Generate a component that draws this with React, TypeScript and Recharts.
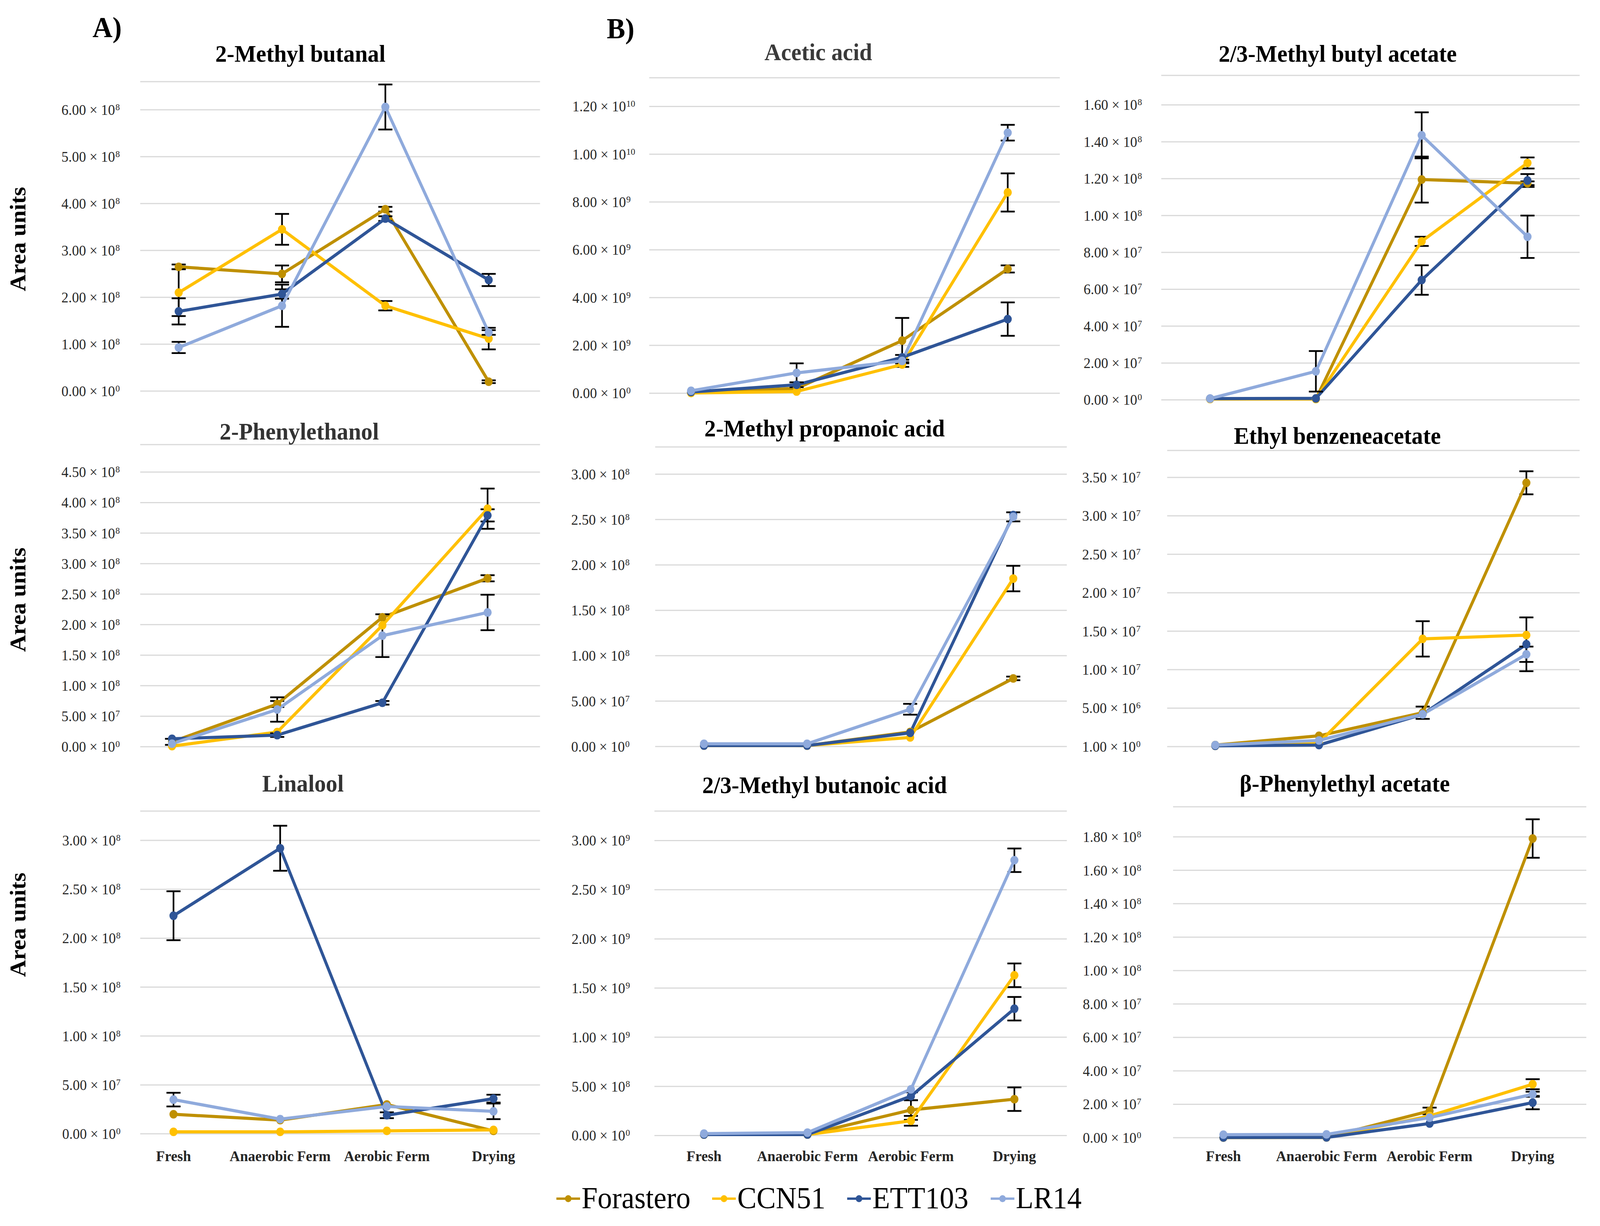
import { CartesianGrid, ErrorBar, Line, LineChart, XAxis, YAxis } from "recharts";

const stages = ["Fresh", "Anaerobic Ferm", "Aerobic Ferm", "Drying"];
const cultivars = ["Forastero", "CCN51", "ETT103", "LR14"];
const cultivarColors = ["#BF9000", "#FFC000", "#2F5597", "#8FAADC"];

// rows: Forastero, CCN51, ETT103, LR14 ; columns follow stages
const methylButanalMean = [
    [2.65e8, 2.5e8, 3.88e8, 0.2e8],
    [2.1e8, 3.45e8, 1.82e8, 1.12e8],
    [1.7e8, 2.07e8, 3.68e8, 2.37e8],
    [0.93e8, 1.82e8, 6.06e8, 1.25e8],
];
const methylButanalErr = [
    [0.05e8, 0.18e8, 0.05e8, 0.03e8],
    [0.5e8, 0.33e8, 0.1e8, 0.23e8],
    [0.28e8, 0.1e8, 0.05e8, 0.13e8],
    [0.12e8, 0.45e8, 0.48e8, 0.05e8],
];
const methylButanalTicks = [0, 1e8, 2e8, 3e8, 4e8, 5e8, 6e8];

const phenylethanolMean = [
    [0.08e8, 0.7e8, 2.12e8, 2.76e8],
    [0.01e8, 0.24e8, 1.99e8, 3.9e8],
    [0.13e8, 0.19e8, 0.72e8, 3.79e8],
    [0.05e8, 0.61e8, 1.82e8, 2.2e8],
];
const phenylethanolErr = [
    [0.05e8, 0.05e8, 0, 0.05e8],
    [0, 0, 0, 0.33e8],
    [0, 0.03e8, 0.03e8, 0.1e8],
    [0, 0.2e8, 0.35e8, 0.29e8],
];
const phenylethanolTicks = [0, 0.5e8, 1e8, 1.5e8, 2e8, 2.5e8, 3e8, 3.5e8, 4e8, 4.5e8];

const linaloolMean = [
    [0.2e8, 0.14e8, 0.3e8, 0.03e8],
    [0.02e8, 0.02e8, 0.03e8, 0.04e8],
    [2.23e8, 2.92e8, 0.19e8, 0.36e8],
    [0.35e8, 0.15e8, 0.28e8, 0.23e8],
];
const linaloolErr = [
    [0, 0, 0, 0],
    [0, 0, 0, 0],
    [0.25e8, 0.23e8, 0.03e8, 0.04e8],
    [0.07e8, 0, 0, 0.08e8],
];
const linaloolTicks = [0, 0.5e8, 1e8, 1.5e8, 2e8, 2.5e8, 3e8];

const aceticMean = [
    [0.02e9, 0.2e9, 2.2e9, 5.2e9],
    [0.01e9, 0.07e9, 1.2e9, 8.4e9],
    [0.05e9, 0.35e9, 1.5e9, 3.1e9],
    [0.1e9, 0.85e9, 1.35e9, 10.9e9],
];
const aceticErr = [
    [0, 0, 0.95e9, 0.15e9],
    [0, 0, 0.1e9, 0.8e9],
    [0, 0.1e9, 0.1e9, 0.7e9],
    [0, 0.4e9, 0, 0.33e9],
];
const aceticTicks = [0, 2e9, 4e9, 6e9, 8e9, 1e10, 1.2e10];

const propanoicMean = [
    [0.02e8, 0.01e8, 0.16e8, 0.75e8],
    [0.01e8, 0.01e8, 0.1e8, 1.85e8],
    [0.01e8, 0.01e8, 0.15e8, 2.55e8],
    [0.03e8, 0.03e8, 0.41e8, 2.53e8],
];
const propanoicErr = [
    [0, 0, 0, 0.02e8],
    [0, 0, 0, 0.14e8],
    [0, 0, 0, 0],
    [0, 0, 0.06e8, 0.05e8],
];
const propanoicTicks = [0, 0.5e8, 1e8, 1.5e8, 2e8, 2.5e8, 3e8];

const butanoicMean = [
    [0.01e9, 0.01e9, 0.26e9, 0.37e9],
    [0.01e9, 0.01e9, 0.15e9, 1.63e9],
    [0.01e9, 0.01e9, 0.4e9, 1.29e9],
    [0.02e9, 0.03e9, 0.47e9, 2.8e9],
];
const butanoicErr = [
    [0, 0, 0.1e9, 0.12e9],
    [0, 0, 0.05e9, 0.12e9],
    [0, 0, 0.04e9, 0.12e9],
    [0, 0, 0, 0.12e9],
];
const butanoicTicks = [0, 0.5e9, 1e9, 1.5e9, 2e9, 2.5e9, 3e9];

const butylAcetateMean = [
    [0.05e7, 0.05e7, 11.95e7, 11.75e7],
    [0.05e7, 0.05e7, 8.6e7, 12.85e7],
    [0.07e7, 0.08e7, 6.5e7, 11.9e7],
    [0.07e7, 1.55e7, 14.35e7, 8.85e7],
];
const butylAcetateErr = [
    [0, 0, 1.25e7, 0.1e7],
    [0, 0, 0.25e7, 0.3e7],
    [0, 0, 0.8e7, 0.35e7],
    [0, 1.1e7, 1.25e7, 1.15e7],
];
const butylAcetateTicks = [0, 2e7, 4e7, 6e7, 8e7, 1e8, 1.2e8, 1.4e8, 1.6e8];

const benzeneacetateMean = [
    [0.02e7, 0.14e7, 0.44e7, 3.43e7],
    [0.01e7, 0.05e7, 1.4e7, 1.45e7],
    [0.01e7, 0.02e7, 0.42e7, 1.33e7],
    [0.02e7, 0.08e7, 0.42e7, 1.2e7],
];
const benzeneacetateErr = [
    [0, 0, 0.08e7, 0.15e7],
    [0, 0, 0.23e7, 0],
    [0, 0, 0, 0.35e7],
    [0, 0, 0, 0.1e7],
];
const benzeneacetateTicks = [1, 5e6, 1e7, 1.5e7, 2e7, 2.5e7, 3e7, 3.5e7];

const phenylethylAcetateMean = [
    [0.01e7, 0.02e7, 1.6e7, 17.9e7],
    [0.01e7, 0.02e7, 1.3e7, 3.2e7],
    [0.01e7, 0.02e7, 0.85e7, 2.1e7],
    [0.18e7, 0.2e7, 1.2e7, 2.6e7],
];
const phenylethylAcetateErr = [
    [0, 0, 0.2e7, 1.15e7],
    [0, 0, 0, 0.3e7],
    [0, 0, 0, 0.4e7],
    [0, 0, 0, 0.15e7],
];
const phenylethylAcetateTicks = [0, 2e7, 4e7, 6e7, 8e7, 1e8, 1.2e8, 1.4e8, 1.6e8, 1.8e8];

const SERIF = "'Liberation Serif', 'Times New Roman', serif";
const PAGE_W = 4325;
const PAGE_H = 3138;
const Y_AXIS_W = 320;
const X_LABEL_BASELINE = 2972;

const panels = [
    { title: "2-Methyl butanal", tc: "#000", tx: 812, ty: 158, mean: methylButanalMean, err: methylButanalErr, ticks: methylButanalTicks, gl: 379, gr: 1460, gt: 281, gb: 1001, pl: 104, pr: 139, lr: 311, showX: false },
    { title: "2-Phenylethanol", tc: "#333", tx: 809, ty: 1125, mean: phenylethanolMean, err: phenylethanolErr, ticks: phenylethanolTicks, gl: 379, gr: 1460, gt: 1208, gb: 1911, pl: 86, pr: 142, lr: 311, showX: false },
    { title: "Linalool", tc: "#333", tx: 819, ty: 2026, mean: linaloolMean, err: linaloolErr, ticks: linaloolTicks, gl: 379, gr: 1460, gt: 2151, gb: 2902, pl: 90, pr: 126, lr: 313, showX: true },
    { title: "Acetic acid", tc: "#3a3a3a", tx: 2212, ty: 154, mean: aceticMean, err: aceticErr, ticks: aceticTicks, gl: 1755, gr: 2865, gt: 272, gb: 1006, pl: 113, pr: 141, lr: 1692, showX: false },
    { title: "2-Methyl propanoic acid", tc: "#000", tx: 2229, ty: 1117, mean: propanoicMean, err: propanoicErr, ticks: propanoicTicks, gl: 1771, gr: 2884, gt: 1214, gb: 1911, pl: 132, pr: 145, lr: 1689, showX: false },
    { title: "2/3-Methyl butanoic acid", tc: "#000", tx: 2229, ty: 2030, mean: butanoicMean, err: butanoicErr, ticks: butanoicTicks, gl: 1769, gr: 2884, gt: 2151, gb: 2906, pl: 134, pr: 142, lr: 1690, showX: true },
    { title: "2/3-Methyl butyl acetate", tc: "#000", tx: 3616, ty: 158, mean: butylAcetateMean, err: butylAcetateErr, ticks: butylAcetateTicks, gl: 3139, gr: 4270, gt: 268, gb: 1023, pl: 132, pr: 141, lr: 3074, showX: false },
    { title: "Ethyl benzeneacetate", tc: "#000", tx: 3615, ty: 1136, mean: benzeneacetateMean, err: benzeneacetateErr, ticks: benzeneacetateTicks, gl: 3155, gr: 4270, gt: 1222, gb: 1911, pl: 130, pr: 144, lr: 3070, showX: false },
    { title: "β-Phenylethyl acetate", tc: "#000", tx: 3635, ty: 2026, mean: phenylethylAcetateMean, err: phenylethylAcetateErr, ticks: phenylethylAcetateTicks, gl: 3171, gr: 4288, gt: 2142, gb: 2912, pl: 136, pr: 145, lr: 3072, showX: true },
];

const areaUnitsY = [612, 1535, 2367];
const legendX = [1504, 1925, 2290, 2678];
const LEGEND_Y = 3068;

function buildRows(mean: number[][], err: number[][]) {
    return stages.map((stage, i) => {
        const row: any = { stage };
        cultivars.forEach((_, s) => {
            row[`v${s}`] = mean[s][i];
            row[`e${s}`] = err[s][i];
        });
        return row;
    });
}

function sci(v: number) {
    if (v === 0) return ["0.00", "0"];
    const e = Math.floor(Math.log10(v) + 1e-9);
    return [(v / Math.pow(10, e)).toFixed(2), String(e)];
}

function makeYTick(offset: number) {
    return (props: any) => {
        const { x, y, payload } = props;
        const [m, e] = sci(payload.value);
        const bx = x + offset;
        return (
            <g>
                <text x={bx} y={y + 13} textAnchor="end" fontFamily={SERIF} fontSize={38} fill="#262626">
                    {`${m} × 10`}
                </text>
                <text x={bx + 1} y={y + 1} textAnchor="start" fontFamily={SERIF} fontSize={24} fill="#262626">
                    {e}
                </text>
            </g>
        );
    };
}

function makeXTick(dy: number) {
    return (props: any) => {
        const { x, y, payload } = props;
        return (
            <text x={x} y={y + dy} textAnchor="middle" fontFamily={SERIF} fontWeight="bold" fontSize={39} fill="#262626">
                {payload.value}
            </text>
        );
    };
}

function Panel({ p }: { p: any }) {
    const data = buildRows(p.mean, p.err);
    const dMin = p.ticks[0];
    const tMax = p.ticks[p.ticks.length - 1];
    const dMax = tMax * 1.1;
    const plotH = ((p.gb - p.gt) * (dMax - dMin)) / (tMax - dMin);
    const mt = 30;
    const mb = p.showX ? 0 : 30;
    const xh = p.showX ? 110 : 0;
    const top = p.gb - plotH - mt;
    const width = Y_AXIS_W + (p.gr - p.gl);
    const height = mt + plotH + mb + xh;
    return (
        <div style={{ position: "absolute", left: p.gl - Y_AXIS_W, top }}>
            <LineChart width={width} height={height} data={data} margin={{ top: mt, right: 0, bottom: mb, left: 0 }}>
                <CartesianGrid vertical={false} stroke="#D9D9D9" strokeWidth={3} />
                <XAxis
                    dataKey="stage"
                    hide={!p.showX}
                    height={xh}
                    padding={{ left: p.pl, right: p.pr }}
                    axisLine={false}
                    tickLine={false}
                    tickSize={0}
                    tickMargin={0}
                    interval={0}
                    tick={makeXTick(X_LABEL_BASELINE - p.gb)}
                />
                <YAxis
                    type="number"
                    width={Y_AXIS_W}
                    domain={[dMin, dMax]}
                    ticks={p.ticks}
                    interval={0}
                    axisLine={false}
                    tickLine={false}
                    tickSize={0}
                    tickMargin={0}
                    tick={makeYTick(p.lr - p.gl)}
                />
                {cultivars.map((c, s) => (
                    <Line
                        key={c}
                        type="linear"
                        dataKey={`v${s}`}
                        name={c}
                        stroke={cultivarColors[s]}
                        strokeWidth={8}
                        dot={{ r: 11, fill: cultivarColors[s], stroke: cultivarColors[s], strokeWidth: 0 }}
                        activeDot={false}
                        isAnimationActive={false}
                    >
                        <ErrorBar dataKey={`e${s}`} direction="y" width={19} strokeWidth={4.5} stroke="#000" isAnimationActive={false} />
                    </Line>
                ))}
            </LineChart>
        </div>
    );
}

export default function App() {
    // fit the fixed 4325x3138 layout into whatever viewport the page really gets
    const vw = typeof window !== "undefined" ? window.innerWidth || PAGE_W : PAGE_W;
    const vh = typeof window !== "undefined" ? window.innerHeight || PAGE_H : PAGE_H;
    const kx = vw / PAGE_W;
    const ky = vh / PAGE_H;
    return (
        <div style={{ position: "fixed", left: 0, top: 0, width: vw, height: vh, overflow: "hidden", background: "#fff" }}>
            <div
                style={{
                    position: "absolute",
                    left: 0,
                    top: 0,
                    width: PAGE_W,
                    height: PAGE_H,
                    transform: `scale(${kx}, ${ky})`,
                    transformOrigin: "0 0",
                }}
            >
                {panels.map((p) => (
                    <Panel key={p.title} p={p} />
                ))}
                <svg width={PAGE_W} height={PAGE_H} style={{ position: "absolute", left: 0, top: 0, pointerEvents: "none" }}>
                    <text x={250} y={95} fontFamily={SERIF} fontWeight="bold" fontSize={75} fill="#000">A)</text>
                    <text x={1640} y={98} fontFamily={SERIF} fontWeight="bold" fontSize={75} fill="#000">B)</text>
                    {panels.map((p) => (
                        <text key={p.title} x={p.tx} y={p.ty} textAnchor="middle" fontFamily={SERIF} fontWeight="bold" fontSize={62} fill={p.tc}>
                            {p.title}
                        </text>
                    ))}
                    {areaUnitsY.map((y) => (
                        <text key={y} transform={`translate(69, ${y}) rotate(-90)`} textAnchor="middle" fontFamily={SERIF} fontWeight="bold" fontSize={60} fill="#000">
                            Area units
                        </text>
                    ))}
                    {cultivars.map((c, s) => (
                        <g key={c}>
                            <line x1={legendX[s]} x2={legendX[s] + 64} y1={LEGEND_Y} y2={LEGEND_Y} stroke={cultivarColors[s]} strokeWidth={6} />
                            <circle cx={legendX[s] + 32} cy={LEGEND_Y} r={9} fill={cultivarColors[s]} />
                            <text x={legendX[s] + 68} y={LEGEND_Y + 24} fontFamily={SERIF} fontSize={78} fill="#000">
                                {c}
                            </text>
                        </g>
                    ))}
                </svg>
            </div>
        </div>
    );
}
